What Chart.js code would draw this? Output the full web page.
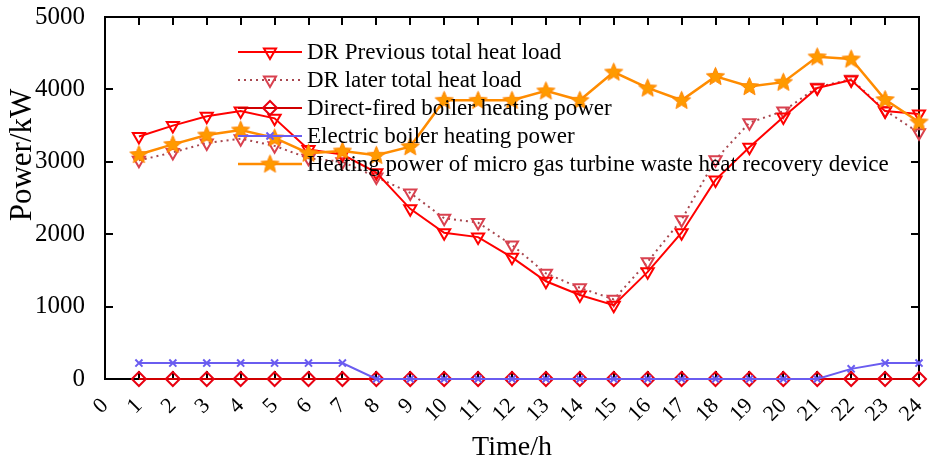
<!DOCTYPE html>
<html>
<head>
<meta charset="utf-8">
<script src="https://cdn.jsdelivr.net/npm/chart.js@4.4.0/dist/chart.umd.min.js"></script>
<style>
  html, body { margin: 0; padding: 0; background: #fff; }
</style>
</head>
<body>
<canvas id="chartPower" width="933" height="464"></canvas>
<script>
const hours = [1, 2, 3, 4, 5, 6, 7, 8, 9, 10, 11, 12, 13, 14, 15, 16, 17, 18, 19, 20, 21, 22, 23, 24];
const drPrevious = [3350, 3500, 3630, 3700, 3600, 3170, 3100, 2850, 2350, 2020, 1960, 1680, 1350, 1160, 1020, 1480, 2020, 2750, 3200, 3620, 4020, 4130, 3700, 3660];
const drLater = [3020, 3130, 3260, 3320, 3220, 3050, 3000, 2790, 2570, 2220, 2160, 1850, 1460, 1260, 1100, 1620, 2200, 3030, 3540, 3700, 4030, 4140, 3710, 3400];
const directFired = [0, 0, 0, 0, 0, 0, 0, 0, 0, 0, 0, 0, 0, 0, 0, 0, 0, 0, 0, 0, 0, 0, 0, 0];
const electricBoiler = [220, 220, 220, 220, 220, 220, 220, 0, 0, 0, 0, 0, 0, 0, 0, 0, 0, 0, 0, 0, 0, 140, 220, 220];
const microTurbine = [3100, 3240, 3370, 3440, 3330, 3120, 3150, 3090, 3210, 3850, 3850, 3850, 3980, 3850, 4240, 4020, 3850, 4180, 4040, 4100, 4450, 4420, 3860, 3550];
const yTicks = [0, 1000, 2000, 3000, 4000, 5000];

const serif = "'Liberation Serif', 'DejaVu Serif', serif";

function points(values) {
  return hours.map((h, i) => ({ x: h, y: values[i] }));
}

// filled five-pointed star used as point style
function makeStar(size, fill, stroke) {
  const c = document.createElement("canvas");
  c.width = size;
  c.height = size;
  const g = c.getContext("2d");
  const cx = size / 2, cy = size / 2 + 0.5;
  const r = size / 2 - 1, r2 = r * 0.45;
  g.beginPath();
  for (let i = 0; i < 10; i++) {
    const a = -Math.PI / 2 + i * Math.PI / 5;
    const rr = i % 2 ? r2 : r;
    g.lineTo(cx + rr * Math.cos(a), cy + rr * Math.sin(a));
  }
  g.closePath();
  g.fillStyle = fill;
  g.fill();
  g.strokeStyle = stroke;
  g.lineWidth = 1;
  g.stroke();
  return c;
}
const starImg = makeStar(21, "#ff9a00", "#ff8400");

// frame with inward ticks, like the original figure
const framePlugin = {
  id: "framePlugin",
  beforeDatasetsDraw(chart) {
    const { ctx, chartArea: a, scales } = chart;
    ctx.save();
    ctx.strokeStyle = "#000";
    ctx.lineWidth = 2;
    ctx.strokeRect(a.left, a.top, a.right - a.left, a.bottom - a.top);
    ctx.beginPath();
    for (let h = 1; h < 24; h++) {
      const x = Math.round(scales.x.getPixelForValue(h));
      ctx.moveTo(x, a.top); ctx.lineTo(x, a.top + 8);
      ctx.moveTo(x, a.bottom); ctx.lineTo(x, a.bottom - 8);
    }
    for (let v = 1000; v < 5000; v += 1000) {
      const y = Math.round(scales.y.getPixelForValue(v));
      ctx.moveTo(a.left, y); ctx.lineTo(a.left + 8, y);
      ctx.moveTo(a.right, y); ctx.lineTo(a.right - 8, y);
    }
    ctx.stroke();

    // y axis title
    ctx.fillStyle = "#000";
    ctx.font = "31px " + serif;
    ctx.textAlign = "center";
    ctx.textBaseline = "middle";
    ctx.translate(23, 155);
    ctx.rotate(-Math.PI / 2);
    ctx.fillText("Power/kW", 0, 0);
    ctx.restore();
  }
};

// legend inside the plot: line + marker + text
const legendPlugin = {
  id: "legendPlugin",
  afterDatasetsDraw(chart) {
    const { ctx, chartArea: a } = chart;
    ctx.save();
    chart.data.datasets.forEach((ds, i) => {
      const y = a.top + 35 + i * 28;
      const x0 = a.left + 133, x1 = a.left + 197, xm = a.left + 165;
      ctx.strokeStyle = ds.borderColor;
      ctx.lineWidth = ds.borderWidth;
      ctx.setLineDash(ds.borderDash || []);
      ctx.beginPath();
      ctx.moveTo(x0, y);
      ctx.lineTo(x1, y);
      ctx.stroke();
      ctx.setLineDash([]);
      ctx.strokeStyle = ds.pointBorderColor;
      ctx.fillStyle = ds.pointBackgroundColor;
      ctx.lineWidth = ds.pointBorderWidth;
      Chart.helpers.drawPoint(ctx, {
        pointStyle: ds.pointStyle,
        radius: ds.pointRadius,
        rotation: ds.pointRotation || 0,
        borderWidth: ds.pointBorderWidth
      }, xm, y);
      ctx.fillStyle = "#000";
      ctx.font = "23px " + serif;
      ctx.textAlign = "left";
      ctx.textBaseline = "middle";
      ctx.fillText(ds.label, a.left + 202, y + 1);
    });
    ctx.restore();
  }
};

const chart = new Chart("chartPower", {
  type: "line",
  data: {
    datasets: [
      {
        label: "DR Previous total heat load",
        data: points(drPrevious),
        borderColor: "#ff0000",
        borderWidth: 2,
        pointStyle: "triangle",
        pointRotation: 180,
        pointRadius: 7,
        pointBorderColor: "#ff0000",
        pointBackgroundColor: "rgba(255,255,255,0)",
        pointBorderWidth: 2,
        order: 3,
        clip: false
      },
      {
        label: "DR later total heat load",
        data: points(drLater),
        borderColor: "#a8474f",
        borderWidth: 2,
        borderDash: [2, 4],
        pointStyle: "triangle",
        pointRotation: 180,
        pointRadius: 7,
        pointBorderColor: "#d9414f",
        pointBackgroundColor: "rgba(255,255,255,0)",
        pointBorderWidth: 2,
        order: 4,
        clip: false
      },
      {
        label: "Direct-fired boiler heating power",
        data: points(directFired),
        borderColor: "#d00000",
        borderWidth: 2,
        pointStyle: "rectRot",
        pointRadius: 7,
        pointBorderColor: "#e80010",
        pointBackgroundColor: "rgba(255,255,255,0)",
        pointBorderWidth: 2,
        order: 5,
        clip: false
      },
      {
        label: "Electric boiler heating power",
        data: points(electricBoiler),
        borderColor: "#6a5cf0",
        borderWidth: 2,
        pointStyle: "crossRot",
        pointRadius: 5,
        pointBorderColor: "#6a5cf0",
        pointBackgroundColor: "#6a5cf0",
        pointBorderWidth: 2,
        order: 2,
        clip: false
      },
      {
        label: "Heating power of micro gas turbine waste heat recovery device",
        data: points(microTurbine),
        borderColor: "#ff8c00",
        borderWidth: 2.5,
        pointStyle: starImg,
        pointRadius: 10,
        pointBorderColor: "#ff8400",
        pointBackgroundColor: "#ff9a00",
        pointBorderWidth: 1,
        order: 1,
        clip: false
      }
    ]
  },
  options: {
    responsive: false,
    animation: false,
    layout: { padding: { top: 17, right: 14, left: 0, bottom: 0 } },
    plugins: {
      legend: { display: false },
      tooltip: { enabled: false }
    },
    elements: { line: { tension: 0 } },
    scales: {
      x: {
        type: "linear",
        min: 0,
        max: 24,
        grid: { display: false },
        border: { display: false },
        ticks: {
          stepSize: 1,
          autoSkip: false,
          minRotation: 45,
          maxRotation: 45,
          padding: 6,
          color: "#000",
          font: { family: serif, size: 22 }
        },
        title: {
          display: true,
          text: "Time/h",
          color: "#000",
          font: { family: serif, size: 28 },
          padding: { top: 0, bottom: 0 }
        },
        afterFit(scale) {
          scale.height = 85;
          scale.paddingLeft = 0;
          scale.paddingRight = 0;
        }
      },
      y: {
        min: 0,
        max: 5000,
        grid: { display: false },
        border: { display: false },
        afterBuildTicks(scale) { scale.ticks = yTicks.map(v => ({ value: v })); },
        ticks: {
          padding: 12,
          color: "#000",
          font: { family: serif, size: 25 },
          callback: v => String(v)
        },
        afterFit(scale) {
          scale.width = 105;
          scale.paddingTop = 0;
          scale.paddingBottom = 0;
        }
      }
    }
  },
  plugins: [framePlugin, legendPlugin]
});
</script>
</body>
</html>
